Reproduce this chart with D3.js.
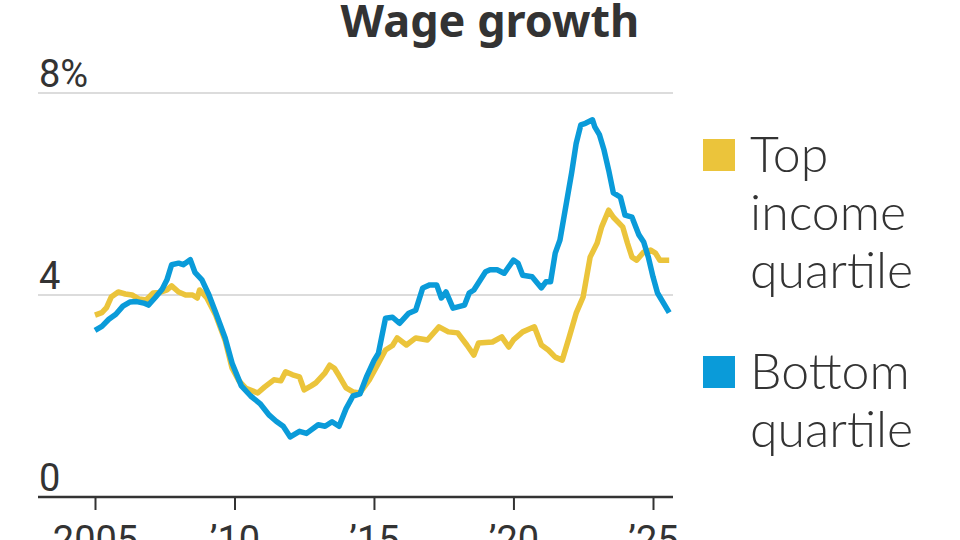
<!DOCTYPE html>
<html>
<head>
<meta charset="utf-8">
<script src="https://cdn.jsdelivr.net/npm/d3@7"></script>
<style>
  html, body { margin: 0; padding: 0; background: #fff; }
  svg { display: block; }
</style>
</head>
<body>
<svg id="chart" width="960" height="540"></svg>
<script>
// ---- data ----
const title = "Wage growth";
const seriesNames = ["Top income quartile", "Bottom quartile"];
const yTicks = [0, 4, 8];
const yTickLabels = ["0", "4", "8%"];
const xTickYears = [2005, 2010, 2015, 2020, 2025];
const xTickLabels = ["2005", "\u201910", "\u201915", "\u201920", "\u201925"];

const topDates = ["2005-01","2005-04","2005-06","2005-08","2005-11","2006-02","2006-05","2006-08","2006-11","2007-02","2007-05","2007-08","2007-10","2008-01","2008-04","2008-07","2008-09","2008-10","2009-01","2009-05","2009-09","2009-12","2010-03","2010-06","2010-11","2011-02","2011-06","2011-09","2011-11","2012-02","2012-05","2012-07","2012-10","2012-12","2013-04","2013-06","2013-08","2013-10","2014-01","2014-04","2014-07","2014-11","2015-03","2015-06","2015-09","2015-11","2016-03","2016-07","2016-12","2017-05","2017-09","2018-01","2018-05","2018-08","2018-10","2019-04","2019-08","2019-11","2020-01","2020-05","2020-10","2021-01","2021-04","2021-07","2021-10","2022-01","2022-04","2022-07","2022-10","2023-01","2023-03","2023-06","2023-08","2023-12","2024-02","2024-04","2024-06","2024-09","2024-12","2025-02","2025-04","2025-08"];
const topValues = [3.60,3.65,3.75,3.96,4.06,4.02,4.00,3.92,3.90,4.04,4.05,4.10,4.18,4.06,4.00,4.00,3.94,4.10,3.95,3.60,3.10,2.55,2.30,2.15,2.06,2.18,2.32,2.30,2.48,2.42,2.38,2.12,2.20,2.26,2.46,2.61,2.55,2.40,2.16,2.08,2.06,2.32,2.65,2.91,3.00,3.15,3.01,3.15,3.11,3.37,3.27,3.25,3.01,2.81,3.05,3.07,3.17,2.97,3.11,3.27,3.37,3.01,2.91,2.77,2.71,3.17,3.64,3.96,4.75,5.03,5.35,5.68,5.54,5.35,5.03,4.75,4.69,4.85,4.89,4.83,4.69,4.69];

const bottomDates = ["2005-01","2005-04","2005-07","2005-10","2006-01","2006-04","2006-07","2006-10","2006-12","2007-03","2007-06","2007-08","2007-10","2008-01","2008-03","2008-06","2008-08","2008-11","2009-02","2009-05","2009-09","2009-12","2010-04","2010-08","2010-12","2011-04","2011-07","2011-10","2012-01","2012-05","2012-08","2013-01","2013-04","2013-07","2013-10","2014-01","2014-04","2014-07","2014-10","2015-01","2015-03","2015-06","2015-09","2015-12","2016-04","2016-07","2016-10","2017-01","2017-04","2017-06","2017-08","2017-11","2018-04","2018-06","2018-08","2019-01","2019-03","2019-06","2019-09","2020-01","2020-03","2020-05","2020-09","2021-01","2021-03","2021-05","2021-07","2021-09","2021-12","2022-02","2022-04","2022-06","2022-08","2022-11","2022-12","2023-02","2023-04","2023-06","2023-08","2023-11","2024-01","2024-04","2024-07","2024-09","2024-11","2025-01","2025-03","2025-08"];
const bottomValues = [3.30,3.38,3.52,3.62,3.78,3.86,3.87,3.84,3.80,3.95,4.12,4.30,4.60,4.63,4.60,4.70,4.45,4.30,4.00,3.65,3.15,2.65,2.20,2.00,1.85,1.62,1.50,1.40,1.19,1.30,1.26,1.43,1.40,1.49,1.40,1.75,2.00,2.04,2.40,2.70,2.85,3.54,3.56,3.44,3.64,3.70,4.14,4.20,4.20,3.94,4.06,3.74,3.80,4.04,4.10,4.46,4.50,4.50,4.43,4.69,4.63,4.39,4.36,4.14,4.26,4.26,4.83,5.09,5.88,6.42,7.00,7.37,7.40,7.47,7.33,7.17,6.87,6.47,6.02,5.94,5.58,5.54,5.19,5.05,4.75,4.36,4.04,3.65];

const colors = ["#ebc43b", "#0a9bd9"];

// ---- drawing ----
const svg = d3.select("#chart");
const parse = d3.timeParse("%Y-%m");
const x = d3.scaleTime()
  .domain([new Date(2005, 0, 1), new Date(2025, 0, 1)])
  .range([95, 653]);
const y = d3.scaleLinear().domain([0, 8]).range([497, 93]);
const plotLeft = 38, plotRight = 673;

const txt = "#333333";
const numFont = "'Liberation Sans Narrow', 'Roboto', sans-serif";

// gridlines (non-zero)
svg.append("g").selectAll("line")
  .data(yTicks.filter(d => d !== 0))
  .join("line")
  .attr("x1", plotLeft).attr("x2", plotRight)
  .attr("y1", d => y(d)).attr("y2", d => y(d))
  .attr("stroke", "#dcdcdc").attr("stroke-width", 2);

// y labels
svg.append("g").selectAll("text")
  .data(yTicks)
  .join("text")
  .attr("x", 39)
  .attr("y", d => y(d) - 6)
  .attr("font-family", numFont)
  .attr("font-size", 38)
  .attr("fill", txt)
  .text((d, i) => yTickLabels[i]);

// x axis
const xAxis = d3.axisBottom(x)
  .tickValues(xTickYears.map(yr => new Date(yr, 0, 1)))
  .tickFormat((d, i) => xTickLabels[i])
  .tickSize(13)
  .tickPadding(16);
const gx = svg.append("g").attr("transform", `translate(0,${y(0)})`).call(xAxis);
gx.select(".domain").remove();
gx.selectAll(".tick line").attr("stroke", txt).attr("stroke-width", 2);
gx.selectAll(".tick text")
  .attr("font-family", numFont)
  .attr("font-size", 38)
  .attr("fill", txt);
svg.append("line")
  .attr("x1", plotLeft).attr("x2", plotRight)
  .attr("y1", y(0)).attr("y2", y(0))
  .attr("stroke", txt).attr("stroke-width", 2.5);

// lines
const line = d3.line().x(d => x(d.date)).y(d => y(d.value)).curve(d3.curveLinear);
const topData = topDates.map((d, i) => ({ date: parse(d), value: topValues[i] }));
const bottomData = bottomDates.map((d, i) => ({ date: parse(d), value: bottomValues[i] }));
[topData, bottomData].forEach((data, i) => {
  svg.append("path")
    .datum(data)
    .attr("fill", "none")
    .attr("stroke", colors[i])
    .attr("stroke-width", 5.5)
    .attr("stroke-linejoin", "round")
    .attr("stroke-linecap", "butt")
    .attr("d", line);
});

// title
svg.append("text")
  .attr("x", 490).attr("y", 37)
  .attr("text-anchor", "middle")
  .attr("font-family", "'Noto Sans', 'Open Sans', sans-serif")
  .attr("font-weight", 700)
  .attr("font-size", 45)
  .attr("fill", txt)
  .text(title);

// legend
const legendFont = "'Lato', 'Open Sans', sans-serif";
const legendItems = [
  { lines: ["Top", "income", "quartile"], color: colors[0], top: 139, base: 172 },
  { lines: ["Bottom", "quartile"], color: colors[1], top: 356, base: 389 }
];
legendItems.forEach(item => {
  svg.append("rect")
    .attr("x", 703).attr("y", item.top)
    .attr("width", 32).attr("height", 32)
    .attr("fill", item.color);
  const t = svg.append("text")
    .attr("font-family", legendFont)
    .attr("font-weight", 300)
    .attr("font-size", 50)
    .attr("fill", txt);
  item.lines.forEach((ln, j) => {
    t.append("tspan").attr("x", 750).attr("y", item.base + j * 58).text(ln);
  });
});
</script>
</body>
</html>
